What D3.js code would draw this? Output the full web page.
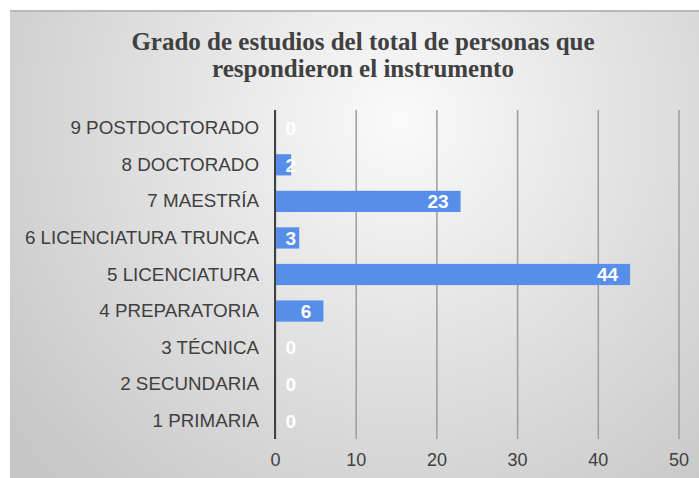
<!DOCTYPE html>
<html>
<head>
<meta charset="utf-8">
<script src="https://cdn.jsdelivr.net/npm/d3@7"></script>
<style>
  body { margin: 0; background: #fff; }
  svg { display: block; }
</style>
</head>
<body>
<script>
// data
var categories = ["1 PRIMARIA", "2 SECUNDARIA", "3 TÉCNICA", "4 PREPARATORIA", "5 LICENCIATURA",
                  "6 LICENCIATURA TRUNCA", "7 MAESTRÍA", "8 DOCTORADO", "9 POSTDOCTORADO"];
var values = [0, 0, 0, 6, 44, 3, 23, 2, 0];
var xTicks = [0, 10, 20, 30, 40, 50];
var titleLines = ["Grado de estudios del total de personas que", "respondieron el instrumento"];

var width = 699, height = 478;
var textColor = "#404040";

var svg = d3.select("body").append("svg")
    .attr("width", width)
    .attr("height", height);

// background gradient of the chart area
var defs = svg.append("defs");
var grad = defs.append("radialGradient")
    .attr("id", "bg")
    .attr("gradientUnits", "userSpaceOnUse")
    .attr("cx", 400).attr("cy", 120).attr("r", 500);
grad.append("stop").attr("offset", "0%").attr("stop-color", "#fafafa");
grad.append("stop").attr("offset", "100%").attr("stop-color", "#c6c6c6");

svg.append("rect")
    .attr("x", 10).attr("y", 10)
    .attr("width", width - 10).attr("height", height - 10)
    .attr("fill", "url(#bg)");

svg.append("line")
    .attr("x1", 10).attr("x2", width)
    .attr("y1", 11).attr("y2", 11)
    .attr("stroke", "#b9b9b9").attr("stroke-width", 2);

// title
svg.append("g").selectAll("text")
    .data(titleLines)
  .enter().append("text")
    .attr("x", 363)
    .attr("y", function(d, i) { return 50 + i * 27; })
    .attr("text-anchor", "middle")
    .attr("font-family", "'Liberation Serif', 'Times New Roman', serif")
    .attr("font-weight", "bold")
    .attr("font-size", 25)
    .attr("fill", textColor)
    .text(function(d) { return d; });

// scales
var plotTop = 110, plotBottom = 439;
var x = d3.scaleLinear().domain([0, 50]).range([275, 678.5]);
var y = d3.scaleBand()
    .domain(categories.slice().reverse())
    .range([plotTop, plotBottom])
    .paddingInner(0.42)
    .paddingOuter(0.21);

// gridlines + tick labels
var xAxis = svg.append("g")
    .attr("transform", "translate(0," + plotBottom + ")")
    .call(d3.axisBottom(x).tickValues(xTicks).tickSize(-(plotBottom - plotTop)).tickSizeOuter(0).tickPadding(14));
xAxis.select(".domain").remove();
xAxis.selectAll(".tick line")
    .attr("stroke", "#9c9c9c")
    .attr("stroke-width", 1.5);
xAxis.selectAll(".tick text")
    .attr("font-family", "'Liberation Sans', Arial, sans-serif")
    .attr("font-size", 18)
    .attr("fill", textColor);

// category labels
var yAxis = svg.append("g")
    .attr("transform", "translate(" + x(0) + ",0)")
    .call(d3.axisLeft(y).tickSize(0).tickPadding(16));
yAxis.select(".domain").remove();
yAxis.selectAll(".tick text")
    .attr("font-family", "'Liberation Sans', Arial, sans-serif")
    .attr("font-size", 18.8)
    .attr("fill", textColor);

// bars
var rows = categories.map(function(c, i) { return { cat: c, val: values[i] }; });

svg.append("g").selectAll("rect")
    .data(rows)
  .enter().append("rect")
    .attr("x", x(0))
    .attr("y", function(d) { return y(d.cat); })
    .attr("width", function(d) { return x(d.val) - x(0); })
    .attr("height", y.bandwidth())
    .attr("fill", "#568eea");

// value axis line
svg.append("line")
    .attr("x1", x(0)).attr("x2", x(0))
    .attr("y1", plotTop).attr("y2", plotBottom)
    .attr("stroke", "#404040").attr("stroke-width", 2);

// value labels, inside end
svg.append("g").selectAll("text")
    .data(rows)
  .enter().append("text")
    .attr("x", function(d) { return Math.max(x(d.val) - 12, x(0) + 21); })
    .attr("y", function(d) { return y(d.cat) + y.bandwidth() / 2; })
    .attr("dy", "0.36em")
    .attr("text-anchor", "end")
    .attr("font-family", "'Liberation Sans', Arial, sans-serif")
    .attr("font-weight", "bold")
    .attr("font-size", 19)
    .attr("fill", "#fff")
    .text(function(d) { return d.val; });
</script>
</body>
</html>
